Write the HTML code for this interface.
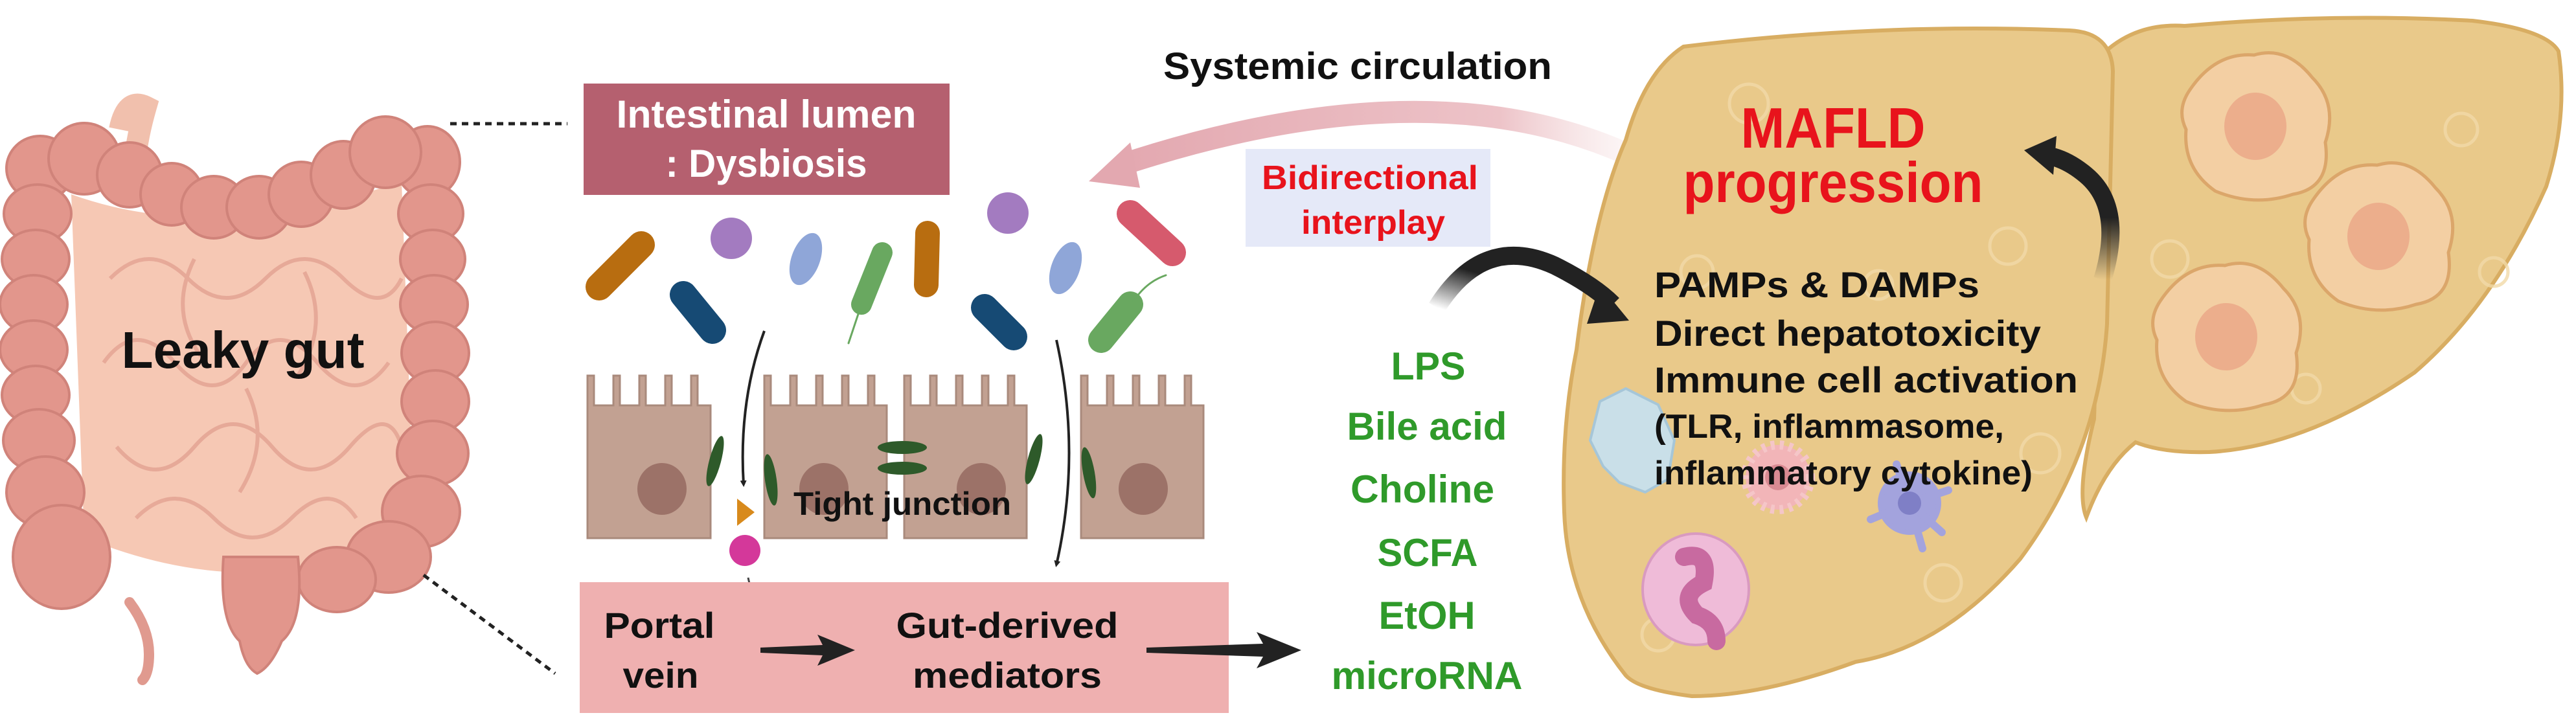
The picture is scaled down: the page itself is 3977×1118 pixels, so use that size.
<!DOCTYPE html>
<html><head><meta charset="utf-8"><style>
html,body{margin:0;padding:0;background:#fff;}
svg{display:block;}
text{font-family:"Liberation Sans",sans-serif;font-weight:bold;}
</style></head><body>
<svg width="3977" height="1118" viewBox="0 0 3977 1118" xmlns="http://www.w3.org/2000/svg">
<defs>
<linearGradient id="pinkArc" x1="0" y1="0" x2="1" y2="0">
<stop offset="0" stop-color="#e3a8b0"/><stop offset="0.75" stop-color="#edc3c8"/><stop offset="1" stop-color="#f5dfe0" stop-opacity="0.3"/>
</linearGradient>
<linearGradient id="blk1" x1="0" y1="1" x2="1" y2="0">
<stop offset="0" stop-color="#222" stop-opacity="0"/><stop offset="0.45" stop-color="#222"/><stop offset="1" stop-color="#222"/>
</linearGradient>
<linearGradient id="blk2" x1="0" y1="1" x2="0" y2="0">
<stop offset="0" stop-color="#222" stop-opacity="0"/><stop offset="0.5" stop-color="#222"/><stop offset="1" stop-color="#222"/>
</linearGradient>
<marker id="ah" markerWidth="10" markerHeight="10" refX="6" refY="5" orient="auto" markerUnits="userSpaceOnUse">
<path d="M0,0 L10,5 L0,10 z" fill="#222"/></marker>
</defs>

<!-- ===== Intestine ===== -->
<path d="M185,200 Q195,150 225,165 Q212,210 208,250" stroke="#f1c0ad" stroke-width="34" fill="none"/>
<path d="M110,300 Q330,380 620,280 L640,820 Q560,900 460,880 Q300,900 130,830 z" fill="#f6c8b4"/>
<g fill="none" stroke="#e3a292" stroke-width="6" opacity="0.8">
<path d="M170,430 q60,-60 120,0 t120,0 t120,0 t90,0"/>
<path d="M160,560 q50,-70 110,0 t110,0 t110,0 t110,0"/>
<path d="M180,690 q60,70 120,0 t120,0 t120,0 t80,0"/>
<path d="M210,800 q60,-60 120,0 t120,0 t100,0"/>
<path d="M300,400 q-40,80 10,150"/><path d="M470,420 q40,80 -10,160"/>
<path d="M380,600 q40,80 -10,160"/>
</g>
<g fill="#e2968c" stroke="#d0837a" stroke-width="4">
<ellipse cx="62" cy="260" rx="52" ry="50"/><ellipse cx="58" cy="330" rx="52" ry="45"/><ellipse cx="55" cy="400" rx="52" ry="45"/>
<ellipse cx="52" cy="470" rx="52" ry="45"/><ellipse cx="52" cy="540" rx="52" ry="45"/><ellipse cx="55" cy="610" rx="52" ry="45"/>
<ellipse cx="60" cy="680" rx="55" ry="48"/><ellipse cx="70" cy="760" rx="60" ry="55"/><ellipse cx="95" cy="860" rx="75" ry="80"/>
<ellipse cx="660" cy="250" rx="50" ry="55"/><ellipse cx="665" cy="330" rx="50" ry="45"/><ellipse cx="668" cy="400" rx="50" ry="45"/>
<ellipse cx="670" cy="470" rx="52" ry="45"/><ellipse cx="672" cy="545" rx="52" ry="48"/><ellipse cx="672" cy="620" rx="52" ry="48"/>
<ellipse cx="668" cy="700" rx="55" ry="50"/><ellipse cx="650" cy="790" rx="60" ry="55"/><ellipse cx="600" cy="860" rx="65" ry="55"/>
<ellipse cx="520" cy="895" rx="60" ry="50"/>
<ellipse cx="130" cy="245" rx="55" ry="55"/><ellipse cx="200" cy="270" rx="50" ry="50"/><ellipse cx="265" cy="300" rx="48" ry="48"/>
<ellipse cx="330" cy="320" rx="50" ry="48"/><ellipse cx="400" cy="320" rx="50" ry="48"/><ellipse cx="465" cy="300" rx="50" ry="50"/>
<ellipse cx="530" cy="270" rx="50" ry="52"/><ellipse cx="595" cy="235" rx="55" ry="55"/>
</g>
<path d="M200,930 q30,40 30,80 q0,30 -10,40" stroke="#e09a8f" stroke-width="16" fill="none" stroke-linecap="round"/>
<path d="M345,860 L460,860 Q470,960 435,990 Q418,1030 397,1040 Q378,1030 370,990 Q338,960 345,860 z" fill="#e2968c" stroke="#d0837a" stroke-width="4"/>
<text x="375" y="568" font-size="80" text-anchor="middle" textLength="375" lengthAdjust="spacingAndGlyphs" fill="#111">Leaky gut</text>

<!-- dotted lines -->
<line x1="695" y1="191" x2="876" y2="191" stroke="#222" stroke-width="5" stroke-dasharray="10,8"/>
<line x1="654" y1="888" x2="857" y2="1040" stroke="#222" stroke-width="5" stroke-dasharray="10,8"/>

<!-- Intestinal lumen box -->
<rect x="901" y="129" width="565" height="172" fill="#b5606f"/>
<text x="1183" y="197" font-size="60" text-anchor="middle" textLength="463" lengthAdjust="spacingAndGlyphs" fill="#fff">Intestinal lumen</text>
<text x="1183" y="273" font-size="60" text-anchor="middle" textLength="311" lengthAdjust="spacingAndGlyphs" fill="#fff">: Dysbiosis</text>

<!-- Systemic circulation -->
<text x="2096" y="122" font-size="58" text-anchor="middle" textLength="600" lengthAdjust="spacingAndGlyphs" fill="#111">Systemic circulation</text>
<path d="M2510,237 Q2200,100 1730,255" stroke="url(#pinkArc)" stroke-width="34" fill="none"/>
<path d="M1681,280 L1745,220 L1760,290 z" fill="#e3a8b0"/>

<!-- Bidirectional box -->
<rect x="1923" y="230" width="378" height="151" fill="#e5e9f8"/>
<text x="2115" y="292" font-size="52" text-anchor="middle" textLength="334" lengthAdjust="spacingAndGlyphs" fill="#e8131c">Bidirectional</text>
<text x="2120" y="361" font-size="52" text-anchor="middle" textLength="222" lengthAdjust="spacingAndGlyphs" fill="#e8131c">interplay</text>

<!-- Bacteria -->
<g stroke-linecap="round">
<line x1="925" y1="443" x2="990" y2="378" stroke="#b86d10" stroke-width="42"/>
<circle cx="1129" cy="368" r="32" fill="#a37bc0"/>
<ellipse cx="1244" cy="400" rx="22" ry="42" transform="rotate(20 1244 400)" fill="#8fa6d8"/>
<line x1="1330" y1="470" x2="1362" y2="390" stroke="#69a860" stroke-width="32"/>
<path d="M1330,470 q-10,30 -20,60" stroke="#69a860" stroke-width="3" fill="none"/>
<line x1="1430" y1="440" x2="1432" y2="360" stroke="#b86d10" stroke-width="38"/>
<circle cx="1556" cy="329" r="32" fill="#a37bc0"/>
<ellipse cx="1645" cy="414" rx="22" ry="42" transform="rotate(20 1645 414)" fill="#8fa6d8"/>
<line x1="1745" y1="330" x2="1810" y2="390" stroke="#d65a6d" stroke-width="42"/>
<line x1="1055" y1="455" x2="1100" y2="510" stroke="#164a74" stroke-width="42"/>
<line x1="1520" y1="475" x2="1565" y2="520" stroke="#164a74" stroke-width="42"/>
<line x1="1700" y1="525" x2="1745" y2="470" stroke="#69a860" stroke-width="40"/>
<path d="M1750,465 q20,-30 50,-40" stroke="#69a860" stroke-width="3" fill="none"/>
</g>

<!-- Epithelial cells -->
<g fill="#c2a192" stroke="#a98a7c" stroke-width="3">
<path d="M907,626 V580 h10 v46 h30 v-46 h10 v46 h30 v-46 h10 v46 h30 v-46 h10 v46 h30 v-46 h10 v46 h20 V831 H907 z"/>
<path d="M1180,626 V580 h10 v46 h30 v-46 h10 v46 h30 v-46 h10 v46 h30 v-46 h10 v46 h30 v-46 h10 v46 h19 V831 H1180 z"/>
<path d="M1396,626 V580 h10 v46 h30 v-46 h10 v46 h30 v-46 h10 v46 h30 v-46 h10 v46 h30 v-46 h10 v46 h19 V831 H1396 z"/>
<path d="M1669,626 V580 h10 v46 h30 v-46 h10 v46 h30 v-46 h10 v46 h30 v-46 h10 v46 h30 v-46 h10 v46 h19 V831 H1669 z"/>
</g>
<g fill="#9c7268">
<ellipse cx="1022" cy="755" rx="38" ry="40"/><ellipse cx="1272" cy="755" rx="38" ry="40"/>
<ellipse cx="1515" cy="755" rx="38" ry="40"/><ellipse cx="1765" cy="755" rx="38" ry="40"/>
</g>
<g fill="#2e5a2a">
<ellipse cx="1104" cy="712" rx="9" ry="40" transform="rotate(15 1104 712)"/>
<ellipse cx="1190" cy="741" rx="9" ry="40" transform="rotate(-8 1190 741)"/>
<ellipse cx="1393" cy="691" rx="38" ry="10"/><ellipse cx="1393" cy="723" rx="38" ry="10"/>
<ellipse cx="1596" cy="709" rx="9" ry="40" transform="rotate(15 1596 709)"/>
<ellipse cx="1681" cy="730" rx="9" ry="40" transform="rotate(-10 1681 730)"/>
</g>
<text x="1393" y="795" font-size="50" text-anchor="middle" textLength="336" lengthAdjust="spacingAndGlyphs" fill="#111">Tight junction</text>
<path d="M1138,770 L1165,791 L1138,812 z" fill="#d88a1c"/>
<circle cx="1150" cy="850" r="24" fill="#d4389a"/>
<path d="M1180,511 Q1140,620 1148,748" stroke="#222" stroke-width="4" fill="none" marker-end="url(#ah)"/>
<path d="M1631,525 Q1670,700 1631,872" stroke="#222" stroke-width="4" fill="none" marker-end="url(#ah)"/>
<path d="M1155,892 Q1165,945 1228,975" stroke="#444" stroke-width="3" fill="none" marker-end="url(#ah)"/>

<!-- Portal vein box -->
<rect x="895" y="899" width="1002" height="202" fill="#efb0b0"/>
<text x="1018" y="985" font-size="56" text-anchor="middle" textLength="171" lengthAdjust="spacingAndGlyphs" fill="#111">Portal</text>
<text x="1020" y="1062" font-size="56" text-anchor="middle" textLength="117" lengthAdjust="spacingAndGlyphs" fill="#111">vein</text>
<text x="1555" y="985" font-size="56" text-anchor="middle" textLength="343" lengthAdjust="spacingAndGlyphs" fill="#111">Gut-derived</text>
<text x="1555" y="1062" font-size="56" text-anchor="middle" textLength="292" lengthAdjust="spacingAndGlyphs" fill="#111">mediators</text>
<path d="M1174,1000 L1270,996 L1262,980 L1320,1004 L1262,1028 L1270,1012 L1174,1008 z" fill="#222"/>
<path d="M1770,1000 L1950,994 L1940,976 L2009,1004 L1940,1032 L1950,1014 L1770,1008 z" fill="#222"/>

<!-- Green mediators -->
<g fill="#2f9a2a" font-size="60" text-anchor="middle">
<text x="2205" y="586" textLength="115" lengthAdjust="spacingAndGlyphs">LPS</text>
<text x="2203" y="679" textLength="247" lengthAdjust="spacingAndGlyphs">Bile acid</text>
<text x="2196" y="776" textLength="222" lengthAdjust="spacingAndGlyphs">Choline</text>
<text x="2204" y="874" textLength="155" lengthAdjust="spacingAndGlyphs">SCFA</text>
<text x="2203" y="971" textLength="149" lengthAdjust="spacingAndGlyphs">EtOH</text>
<text x="2203" y="1064" textLength="295" lengthAdjust="spacingAndGlyphs">microRNA</text>
</g>

<!-- Liver -->
<path d="M3297,683 Q3250,720 3221,799 Q3205,760 3233,647 L3250,80 Q3300,35 3373,40 Q3600,20 3817,32 Q3930,45 3950,79 Q3965,180 3931,288 Q3850,470 3728,575 Q3560,690 3411,698 Q3340,700 3297,683 z" fill="#e9c98a" stroke="#d8ad62" stroke-width="6"/>
<path d="M2599,72 Q2900,35 3195,47 Q3260,50 3262,110 L3253,500 Q3240,700 3119,863 Q3000,1000 2865,1022 Q2720,1075 2612,1075 Q2530,1065 2510,1043 Q2420,930 2415,791 Q2410,660 2434,540 Q2460,330 2510,216 Q2540,110 2599,72 z" fill="#e9c98a" stroke="#d8ad62" stroke-width="6"/>
<g fill="none" stroke="#f1d9a8" stroke-width="5" opacity="0.8">
<circle cx="2700" cy="160" r="30"/><circle cx="2620" cy="420" r="25"/><circle cx="3100" cy="380" r="28"/>
<circle cx="2900" cy="440" r="22"/><circle cx="3150" cy="700" r="30"/><circle cx="2560" cy="980" r="25"/>
<circle cx="3000" cy="900" r="28"/><circle cx="3800" cy="200" r="25"/><circle cx="3850" cy="420" r="22"/>
<circle cx="3350" cy="400" r="28"/><circle cx="3560" cy="600" r="22"/>
</g>
<!-- hepatocytes -->
<g>
<path d="M3380,140 Q3420,80 3480,85 Q3530,70 3570,120 Q3610,160 3590,220 Q3600,290 3540,300 Q3480,320 3420,295 Q3370,260 3375,200 Q3360,170 3380,140 z" fill="#f3cfa3" stroke="#dba66a" stroke-width="5"/>
<ellipse cx="3482" cy="195" rx="48" ry="52" fill="#ecae8c"/>
<path d="M3570,310 Q3610,250 3670,255 Q3720,240 3760,290 Q3800,330 3780,390 Q3790,460 3730,470 Q3670,490 3610,465 Q3560,430 3565,370 Q3550,340 3570,310 z" fill="#f3cfa3" stroke="#dba66a" stroke-width="5"/>
<ellipse cx="3672" cy="365" rx="48" ry="52" fill="#ecae8c"/>
<path d="M3335,465 Q3375,405 3435,410 Q3485,395 3525,445 Q3565,485 3545,545 Q3555,615 3495,625 Q3435,645 3375,620 Q3325,585 3330,525 Q3315,495 3335,465 z" fill="#f3cfa3" stroke="#dba66a" stroke-width="5"/>
<ellipse cx="3437" cy="520" rx="48" ry="52" fill="#ecae8c"/>
</g>
<!-- immune cells -->
<path d="M2470,620 L2510,600 L2560,625 L2585,680 L2575,740 L2540,760 L2500,745 L2475,720 L2455,680 z" fill="#c9dfe8" stroke="#a6c6d8" stroke-width="4"/>
<circle cx="2745" cy="737" r="50" fill="#f2b5b8" stroke="#f5c6c8" stroke-width="14" stroke-dasharray="6,8"/>
<circle cx="2745" cy="737" r="20" fill="#d98a92"/>
<circle cx="2948" cy="777" r="45" fill="#a3a3dd" stroke="#a3a3dd" stroke-width="8"/>
<path d="M2948,777 l60,-20 M2948,777 l-60,25 M2948,777 l20,70 M2948,777 l-20,-60 M2948,777 l50,45" stroke="#a3a3dd" stroke-width="12" stroke-linecap="round"/>
<circle cx="2948" cy="777" r="18" fill="#7f7fc6"/>
<ellipse cx="2618" cy="910" rx="82" ry="86" fill="#efbbd8" stroke="#d99ac0" stroke-width="4"/>
<path d="M2600,860 q40,-10 30,40 q-40,20 -10,50 q30,10 30,40" stroke="#c86aa0" stroke-width="28" fill="none" stroke-linecap="round"/>

<!-- black curved arrows -->
<path d="M2218,475 Q2290,360 2400,410 Q2460,440 2490,470" stroke="url(#blk1)" stroke-width="28" fill="none"/>
<path d="M2470,440 L2515,495 L2450,500 z" fill="#222"/>
<path d="M3246,432 Q3280,320 3220,270 Q3190,245 3160,240" stroke="url(#blk2)" stroke-width="28" fill="none"/>
<path d="M3125,232 L3175,210 L3170,270 z" fill="#222"/>

<!-- liver text -->
<text x="2830" y="228" font-size="88" text-anchor="middle" textLength="285" lengthAdjust="spacingAndGlyphs" fill="#e8131c">MAFLD</text>
<text x="2830" y="312" font-size="88" text-anchor="middle" textLength="463" lengthAdjust="spacingAndGlyphs" fill="#e8131c">progression</text>
<g fill="#111" font-size="56">
<text x="2554" y="459" textLength="502" lengthAdjust="spacingAndGlyphs">PAMPs &amp; DAMPs</text>
<text x="2554" y="534" textLength="597" lengthAdjust="spacingAndGlyphs">Direct hepatotoxicity</text>
<text x="2554" y="606" textLength="654" lengthAdjust="spacingAndGlyphs">Immune cell activation</text>
</g>
<g fill="#111" font-size="52" style="font-weight:normal">
<text x="2554" y="676" textLength="540" lengthAdjust="spacingAndGlyphs">(TLR, inflammasome,</text>
<text x="2554" y="748" textLength="584" lengthAdjust="spacingAndGlyphs">inflammatory cytokine)</text>
</g>
</svg>
</body></html>
